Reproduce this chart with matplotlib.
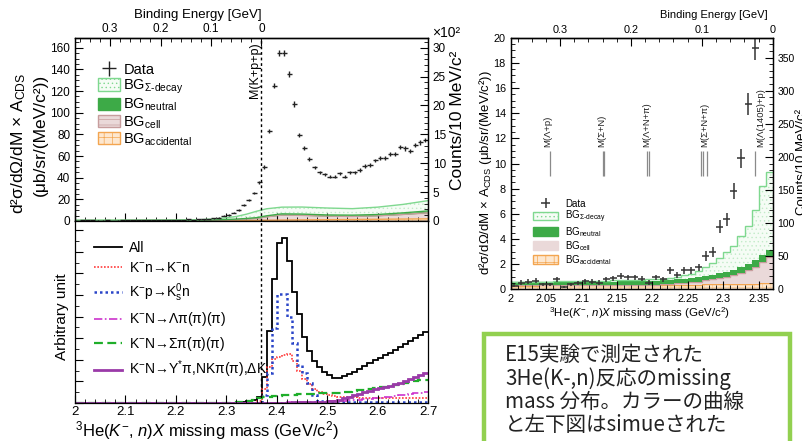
import numpy as np
import matplotlib
matplotlib.use('Agg')
import matplotlib.pyplot as plt
from matplotlib.ticker import MultipleLocator, FixedLocator, NullFormatter, FuncFormatter
from matplotlib.patches import Patch, Rectangle

plt.rcParams['font.family'] = ['Liberation Sans', 'DejaVu Sans']
plt.rcParams['mathtext.fontset'] = 'custom'
plt.rcParams['mathtext.rm'] = 'Liberation Sans'
plt.rcParams['mathtext.it'] = 'Liberation Sans:italic'
plt.rcParams['mathtext.bf'] = 'Liberation Sans:bold'
plt.rcParams['mathtext.sf'] = 'Liberation Sans'
plt.rcParams['hatch.linewidth'] = 0.5
plt.rcParams['axes.linewidth'] = 0.9

# ------------------------------------------------------------------ data
M_KPP = 2.3697           # M(K+p+p) threshold, GeV/c^2
BIN = 0.01               # 10 MeV bins

# measured spectrum (bin centres 2.005 ... 2.695), ub/sr/(MeV/c^2)
data_xsec = [0.29, 0.53, 0.60, 0.68, 0.39, 0.39, 0.78, 0.16, 0.39, 0.47,
             0.65, 0.60, 0.53, 0.79, 0.87, 1.05, 0.95, 0.95, 0.84, 0.53,
             0.95, 0.79, 1.53, 1.13, 1.50, 1.50, 1.74, 2.64, 2.96, 4.97,
             5.56, 7.80, 10.4, 14.7, 19.2, 26.0, 36.0, 50.0, 83.0, 125.0,
             155.0, 155.0, 136.0, 108.0, 79.5, 67.5, 57.0, 49.5, 45.0, 43.0,
             41.0, 41.0, 44.0, 41.0, 45.0, 45.0, 47.0, 51.0, 52.0, 56.0,
             58.0, 58.0, 61.5, 61.5, 68.0, 67.0, 65.0, 70.0, 72.5, 74.5]
data_err = [0.12, 0.17, 0.18, 0.19, 0.14, 0.14, 0.20, 0.09, 0.14, 0.16,
            0.19, 0.18, 0.17, 0.20, 0.21, 0.24, 0.22, 0.22, 0.21, 0.17,
            0.22, 0.20, 0.28, 0.25, 0.28, 0.28, 0.30, 0.37, 0.40, 0.51,
            0.54, 0.64, 0.74, 0.88, 1.00, 1.2, 1.4, 1.6, 2.1, 2.6,
            2.9, 2.9, 2.7, 2.4, 2.1, 1.9, 1.7, 1.6, 1.5, 1.5,
            1.5, 1.5, 1.5, 1.5, 1.5, 1.5, 1.6, 1.6, 1.7, 1.7,
            1.8, 1.8, 1.8, 1.8, 1.9, 1.9, 1.9, 1.9, 2.0, 2.0]

# stacked background curves, full range (upper edge of each layer)
bg_x = [2.00, 2.10, 2.20, 2.25, 2.28, 2.30, 2.32, 2.34, 2.36, 2.38, 2.41,
        2.45, 2.50, 2.55, 2.60, 2.65, 2.70]
bg_sigma = [0.6, 0.7, 0.8, 1.25, 2.1, 2.95, 4.2, 6.3, 9.0, 11.3, 12.8,
            12.9, 12.0, 11.4, 12.8, 15.3, 18.8]
bg_neutral = [0.55, 0.6, 0.68, 0.9, 1.15, 1.4, 1.75, 2.35, 3.1, 4.8, 6.6,
              6.4, 5.6, 5.4, 6.0, 7.5, 9.3]
bg_cell = [0.32, 0.34, 0.38, 0.57, 0.78, 1.0, 1.28, 1.8, 2.5, 3.9, 5.4,
           5.2, 4.5, 4.2, 4.8, 6.0, 7.6]
bg_acc = [0.3, 0.33, 0.36, 0.38, 0.4, 0.42, 0.44, 0.46, 0.5, 0.6, 0.8,
          1.0, 1.2, 1.4, 1.6, 1.8, 2.0]

# stacked background histograms below threshold (bins 2.00 ... 2.37)
hbg_acc = [0.30, 0.30, 0.30, 0.30, 0.31, 0.31, 0.31, 0.31, 0.32, 0.32,
           0.32, 0.32, 0.33, 0.33, 0.33, 0.33, 0.34, 0.34, 0.34, 0.35,
           0.35, 0.35, 0.36, 0.36, 0.37, 0.37, 0.38, 0.39, 0.40, 0.41,
           0.42, 0.43, 0.44, 0.45, 0.46, 0.47, 0.48]
hbg_cell = [0.31, 0.31, 0.31, 0.31, 0.32, 0.32, 0.32, 0.32, 0.33, 0.33,
            0.33, 0.33, 0.34, 0.34, 0.34, 0.35, 0.35, 0.36, 0.36, 0.37,
            0.38, 0.41, 0.45, 0.48, 0.52, 0.57, 0.62, 0.70, 0.78, 0.88,
            1.00, 1.12, 1.28, 1.50, 1.80, 2.20, 2.60]
hbg_neutral = [0.55, 0.55, 0.56, 0.56, 0.57, 0.57, 0.58, 0.58, 0.59, 0.59,
               0.60, 0.60, 0.61, 0.61, 0.62, 0.63, 0.64, 0.65, 0.66, 0.67,
               0.68, 0.71, 0.75, 0.80, 0.85, 0.91, 0.97, 1.06, 1.15, 1.27,
               1.40, 1.55, 1.75, 2.00, 2.35, 2.75, 3.15]
hbg_sigma = [0.60, 0.60, 0.61, 0.61, 0.62, 0.62, 0.63, 0.63, 0.64, 0.65,
             0.66, 0.67, 0.68, 0.69, 0.70, 0.71, 0.72, 0.74, 0.76, 0.78,
             0.80, 0.85, 0.92, 1.00, 1.10, 1.25, 1.45, 1.75, 2.10, 2.50,
             2.95, 3.45, 4.20, 5.00, 6.30, 8.20, 9.35]

# simulated components (bins 2.00 ... 2.70), arbitrary units
sim_all = [0] * 30 + [0.3, 0.5, 0.8, 1.2, 2.0, 3.0, 6.0, 26, 72, 124,
                      160, 165, 142, 111, 89, 66, 52, 42, 36, 31,
                      28, 25, 25, 27, 29, 31, 34, 37, 40, 43,
                      45, 48, 50, 53, 56, 59, 62, 65, 68, 71]
sim_kn = [0] * 35 + [0.5, 2, 14, 36, 44,
                     46, 48, 49, 42, 32, 24, 19, 14, 11, 9,
                     8, 7, 6.5, 6, 6, 6, 5.5, 5.5, 5.5, 5.5,
                     5, 5, 5, 5, 5, 5, 5, 5, 5, 5]
sim_kp = [0] * 35 + [0, 0.5, 8, 30, 75,
                     109, 109, 86, 60, 38, 30, 20, 8, 2, 1.5,
                     1.5, 1.2, 1.2, 1, 1, 1, 1, 1, 1, 1,
                     1, 1, 1, 1, 1, 1, 1, 1, 1, 1]
sim_lam = [0] * 40 + [0.5, 0.5, 0.7, 0.8, 1.0, 1.0, 1.2, 1.3, 1.5, 1.5,
                      2, 2, 2.5, 2.5, 3, 3, 3.5, 4, 4.5, 5,
                      5.5, 6, 6.5, 7, 8, 8.5, 9.5, 10, 10.5, 11]
sim_sig = [0] * 30 + [0.3, 0.5, 1, 1.5, 2.5, 3.5, 5, 6, 6.5, 7,
                      7.5, 8, 8, 8.5, 9, 9, 9.5, 9.5, 10, 10,
                      10, 10, 10.5, 11, 11.5, 12, 13, 13.5, 14.5, 15,
                      16, 16.5, 17.5, 18, 19, 20, 21, 22, 23, 23.5]
sim_ystar = [0] * 40 + [0.3, 0.4, 0.5, 0.6, 0.8, 0.9, 1.0, 1.2, 1.3, 1.5,
                        2, 2.5, 3.5, 5, 6.5, 8, 9.5, 11, 12.5, 14,
                        15, 16.5, 17.5, 19, 20.5, 22, 24, 26, 28, 30]

# thresholds marked in the zoomed panel
thr_labels = ['M(Λ+p)', 'M(Σ+N)', 'M(Λ+N+π)', 'M(Σ+N+π)', 'M(Λ(1405)+p)']
thr_masses = [[2.0557], [2.1300, 2.1318], [2.1920, 2.1946],
              [2.2680, 2.2707, 2.2767], [2.3448]]
thr_text_x = [2.0517, 2.1287, 2.1920, 2.2742, 2.3525]

box_lines = ['E15実験で測定された', '3He(K-,n)反応のmissing',
             'mass 分布。カラーの曲線', 'と左下図はsimueされた']

# ------------------------------------------------------------------ helpers
W, H = 802, 441
fig = plt.figure(figsize=(W / 100, H / 100), dpi=100)


def box(x0, y0, x1, y1):
    return [x0 / W, 1 - y1 / H, (x1 - x0) / W, (y1 - y0) / H]


def fx(x):
    return x / W


def fy(y):
    return 1 - y / H


def be(x):
    return M_KPP - np.asarray(x)


centers = np.arange(len(data_xsec)) * BIN + 2.005
edges_full = np.arange(len(sim_all) + 1) * BIN + 2.0
edges_low = np.arange(len(hbg_sigma) + 1) * BIN + 2.0

# (fill, hatch colour, outline)
C_SIG = ('#f5fcf5', '#c3ebc9', '#7fd88f')
C_NEU = ('#3daa47', '#3daa47', '#3daa47')
C_CELL = ('#ead9d9', '#d8b8b8', '#c79d9d')
C_ACC = ('#fde7cf', '#f8c995', '#f3a550')
H_SIG, H_CELL, H_ACC = '....', '---', '++'


def style_in(ax, **kw):
    ax.tick_params(which='both', direction='in', **kw)
    ax.tick_params(which='major', length=6, width=0.8)
    ax.tick_params(which='minor', length=3, width=0.6)


def legend_patch(c, hatch):
    return Patch(facecolor=c[0], edgecolor=c[2], hatch=hatch, lw=1)


# ================================================================== top-left
axt = fig.add_axes(box(75, 38, 428, 221))
bx = np.array(bg_x)
zero = np.zeros_like(bx)
layers = [
    (zero, bg_acc, C_ACC, H_ACC),
    (bg_acc, bg_cell, C_CELL, H_CELL),
    (bg_cell, bg_neutral, C_NEU, None),
    (bg_neutral, bg_sigma, C_SIG, H_SIG),
]
for lo, hi, c, ht in layers:
    axt.fill_between(bx, lo, hi, facecolor=c[0], edgecolor=c[1],
                     hatch=ht, linewidth=0)
    axt.plot(bx, hi, color=c[2], lw=1.0)

eb = axt.errorbar(centers, data_xsec, yerr=data_err, xerr=BIN / 2, fmt='none',
                  ecolor='#222222', elinewidth=1.0, capsize=0)
axt.axvline(M_KPP, color='black', lw=1.0, ls=(0, (2, 2)))
axt.text(M_KPP - 0.013, 165, 'M(K+p+p)', rotation=90, ha='center', va='top',
         fontsize=9)
axt.set_xlim(2.0, 2.7)
axt.set_ylim(0, 169)
axt.xaxis.set_major_locator(MultipleLocator(0.1))
axt.xaxis.set_minor_locator(MultipleLocator(0.02))
axt.yaxis.set_major_locator(MultipleLocator(20))
axt.yaxis.set_minor_locator(MultipleLocator(5))
style_in(axt, labelbottom=False, labelsize=8.5, right=False, top=False)

h_sig = legend_patch(C_SIG, H_SIG)
h_neu = legend_patch(C_NEU, None)
h_cell = legend_patch(C_CELL, H_CELL)
h_acc = legend_patch(C_ACC, H_ACC)
bg_labels = ['BG$_{\\Sigma\\mathrm{\\text{-}decay}}$', 'BG$_{\\mathrm{neutral}}$',
             'BG$_{\\mathrm{cell}}$', 'BG$_{\\mathrm{accidental}}$']
axt.legend([eb, h_sig, h_neu, h_cell, h_acc], ['Data'] + bg_labels,
           loc='upper left', bbox_to_anchor=(0.065, 0.865), frameon=False,
           fontsize=10.5, handlelength=1.5, handleheight=0.9,
           handletextpad=0.25, labelspacing=0.06, borderpad=0, borderaxespad=0)

axc = axt.twinx()
axc.set_ylim(0, 169 * 18.75 / 100)
axc.yaxis.set_major_locator(MultipleLocator(5))
axc.yaxis.set_minor_locator(MultipleLocator(1))
style_in(axc, labelsize=8.5, left=False)

be_minor = [0.02, 0.04, 0.06, 0.08, 0.12, 0.14, 0.16, 0.18, 0.22, 0.24,
            0.26, 0.28, 0.32, 0.34, 0.36]
be_fmt = FuncFormatter(lambda v, p: '0' if abs(v) < 1e-9 else f'{v:.1f}')

sec = axt.secondary_xaxis('top', functions=(be, be))
sec.set_xticks([0, 0.1, 0.2, 0.3])
sec.xaxis.set_minor_locator(FixedLocator(be_minor))
sec.xaxis.set_major_formatter(be_fmt)
sec.tick_params(which='both', direction='in', labelsize=8.5, pad=2)
sec.tick_params(which='major', length=6)
sec.tick_params(which='minor', length=3)

fig.text(fx(262), fy(15), 'Binding Energy [GeV]', ha='right', va='center',
         fontsize=9.5)
fig.text(fx(19), fy(143), 'd²σ/dΩ/dM × A$_{\\mathrm{CDS}}$', rotation=90,
         ha='center', va='center', fontsize=12.5)
fig.text(fx(40), fy(135), '(μb/sr/(MeV/c²))', rotation=90,
         ha='center', va='center', fontsize=12.5)
fig.text(fx(457), fy(120), 'Counts/10 MeV/c²', rotation=90,
         ha='center', va='center', fontsize=12.5)
fig.text(fx(432), fy(33), '×10²', ha='left', va='center', fontsize=10)

# ================================================================== bottom-left
axb = fig.add_axes(box(75, 221, 428, 403))
sims = [
    (sim_all, 'All', 'black', '-', 1.3),
    (sim_kn, 'K$^{-}$n→K$^{-}$n', '#ff3b3b', (0, (1, 1)), 1.2),
    (sim_kp, 'K$^{-}$p→K$^{0}_{\\mathrm{s}}$n', '#2a45c8', (0, (1, 1.2)), 1.8),
    (sim_lam, 'K$^{-}$N→Λπ(π)(π)', '#cc33cc', (0, (5, 1.5, 1, 1.5)), 1.2),
    (sim_sig, 'K$^{-}$N→Σπ(π)(π)', '#1fae2a', (0, (4, 2)), 1.6),
    (sim_ystar, 'K$^{-}$N→Y$^{*}$π,NKπ(π),ΔK', '#9a3aa8', '-', 2.0),
]
for vals, lab, col, ls, lw in sims:
    axb.stairs(vals, edges_full, baseline=None, color=col, ls=ls, lw=lw,
               label=lab)
axb.axvline(M_KPP, color='black', lw=1.0, ls=(0, (2, 2)))
axb.set_xlim(2.0, 2.7)
axb.set_ylim(0, 182)
axb.xaxis.set_major_locator(MultipleLocator(0.1))
axb.xaxis.set_minor_locator(MultipleLocator(0.02))
axb.yaxis.set_major_locator(MultipleLocator(21.6))
axb.yaxis.set_minor_locator(MultipleLocator(10.8))
axb.yaxis.set_major_formatter(NullFormatter())
style_in(axb, labelsize=9.5, top=False, right=False, pad=2)
axb.xaxis.set_major_formatter(FuncFormatter(
    lambda v, p: '2' if abs(v - 2) < 1e-9 else f'{v:.1f}'))
axb.legend(loc='upper left', bbox_to_anchor=(0.055, 0.89), frameon=False,
           fontsize=10, handlelength=2.0, handletextpad=0.5,
           labelspacing=0.45, borderpad=0, borderaxespad=0)
fig.text(fx(62), fy(317), 'Arbitrary unit', rotation=90, ha='center',
         va='center', fontsize=11)
fig.text(fx(75), fy(430.5), '$^{3}$He($K^{-}$, $n$)$X$ missing mass (GeV/c$^{2}$)',
         ha='left', va='center', fontsize=12)

# ================================================================== right panel
axr = fig.add_axes(box(510.7, 37.7, 772.7, 289.3))
rlayers = [
    (0, hbg_acc, C_ACC, H_ACC),
    (hbg_acc, hbg_cell, C_CELL, None),
    (hbg_cell, hbg_neutral, C_NEU, None),
    (hbg_neutral, hbg_sigma, C_SIG, H_SIG),
]
for lo, hi, c, ht in rlayers:
    axr.stairs(hi, edges_low, baseline=lo, fill=True, facecolor=c[0],
               edgecolor=c[1], hatch=ht, linewidth=0)
    axr.stairs(hi, edges_low, baseline=None, color=c[2], lw=1.0)

ebr = axr.errorbar(centers, data_xsec, yerr=data_err, xerr=BIN / 2,
                   fmt='none', ecolor='#333333', elinewidth=1.1, capsize=0)
for lab, ms, tx in zip(thr_labels, thr_masses, thr_text_x):
    axr.vlines(ms, 9.0, 11.0, color='#8a8a8a', lw=0.9)
    axr.text(tx, 11.3, lab, rotation=90, ha='center',
             va='bottom', fontsize=6.8, color='#222222')
axr.set_xlim(2.0, M_KPP)
axr.set_ylim(0, 20)
axr.xaxis.set_major_locator(MultipleLocator(0.05))
axr.xaxis.set_minor_locator(MultipleLocator(0.01))
axr.yaxis.set_major_locator(MultipleLocator(2))
axr.yaxis.set_minor_locator(MultipleLocator(0.5))
style_in(axr, labelsize=7.8, top=False, right=False)
axr.xaxis.set_major_formatter(FuncFormatter(
    lambda v, p: '2' if abs(v - 2) < 1e-9 else f'{v:g}'))
h_cell_r = Patch(facecolor=C_CELL[0], edgecolor=C_CELL[0], lw=1)
axr.legend([ebr, h_sig, h_neu, h_cell_r, h_acc], ['Data'] + bg_labels,
           loc='upper left', bbox_to_anchor=(0.085, 0.36), frameon=False,
           fontsize=7, handlelength=2.6, handleheight=1.0,
           handletextpad=0.7, labelspacing=0.0, borderpad=0, borderaxespad=0)

axrc = axr.twinx()
axrc.set_ylim(0, 20 * 19.0)
axrc.yaxis.set_major_locator(MultipleLocator(50))
axrc.yaxis.set_minor_locator(MultipleLocator(10))
style_in(axrc, labelsize=7.5, left=False)

secr = axr.secondary_xaxis('top', functions=(be, be))
secr.set_xticks([0, 0.1, 0.2, 0.3])
secr.xaxis.set_minor_locator(FixedLocator(be_minor))
secr.xaxis.set_major_formatter(be_fmt)
secr.tick_params(which='both', direction='in', labelsize=7.8, pad=2)
secr.tick_params(which='major', length=6)
secr.tick_params(which='minor', length=3)

fig.text(fx(768), fy(15), 'Binding Energy [GeV]', ha='right', va='center',
         fontsize=8)
fig.text(fx(485), fy(173),
         'd²σ/dΩ/dM × A$_{\\mathrm{CDS}}$ (μb/sr/(MeV/c²))', rotation=90,
         ha='center', va='center', fontsize=9.5)
fig.text(fx(640), fy(313), '$^{3}$He($K^{-}$, $n$)$X$ missing mass (GeV/c$^{2}$)',
         ha='center', va='center', fontsize=8.2)
fig.text(fx(796), fy(162), 'Counts/10 MeV/c²', rotation=90, ha='left',
         va='center', fontsize=9.5)

# ================================================================== note box
fig.add_artist(Rectangle((fx(484), -0.1), fx(790) - fx(484), fy(334) + 0.1,
                         transform=fig.transFigure, fill=False,
                         edgecolor='#92d050', lw=3.2, clip_on=False))
for i, line in enumerate(box_lines):
    fig.text(fx(505), fy(355 + 23.3 * i), line, ha='left', va='center',
             fontsize=14.8, color='#222222',
             family=['Noto Sans CJK JP', 'DejaVu Sans'])

fig.savefig('out.png', dpi=100, facecolor='white')
